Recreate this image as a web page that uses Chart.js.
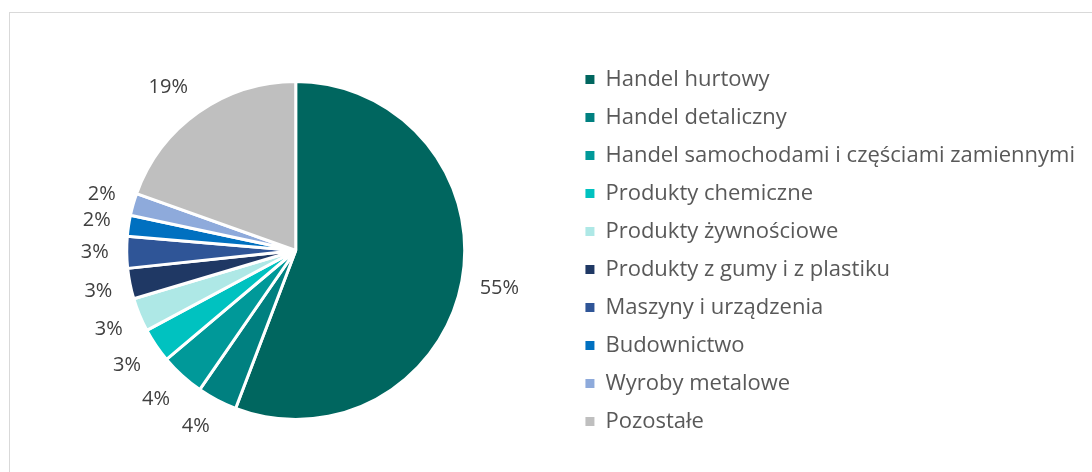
<!DOCTYPE html>
<html lang="pl">
<head>
    <meta charset="UTF-8">
    <title>Struktura</title>
    <script src="https://cdn.jsdelivr.net/npm/chart.js"></script>
    <style>
        html, body {
            margin: 0;
            padding: 0;
            background: #fff;
            overflow: hidden;
        }
        .frame {
            position: absolute;
            left: 9px;
            top: 12px;
            width: 1100px;
            height: 480px;
            border: 1px solid #d9d9d9;
        }
        .wrap {
            position: absolute;
            left: 0;
            top: 0;
            width: 1092px;
            height: 472px;
        }
    </style>
</head>
<body>
    <div class="frame"></div>
    <div class="wrap">
        <canvas id="pie"></canvas>
    </div>
    <script>
        const categories = [
            'Handel hurtowy',
            'Handel detaliczny',
            'Handel samochodami i częściami zamiennymi',
            'Produkty chemiczne',
            'Produkty żywnościowe',
            'Produkty z gumy i z plastiku',
            'Maszyny i urządzenia',
            'Budownictwo',
            'Wyroby metalowe',
            'Pozostałe'
        ];
        // udział w %
        const shares = [55.4, 3.8, 4.2, 3.3, 3.2, 2.9, 3.0, 2.0, 2.1, 19.4];
        const colors = ['#00665f', '#008080', '#009999', '#00c2c0', '#aee8e6',
                        '#1f3864', '#2f5597', '#0070c0', '#8eaadb', '#bfbfbf'];

        const clamp = v => Math.max(-1, Math.min(1, v));

        // percent labels drawn outside each slice (Excel "outside end" style)
        const outerLabels = {
            id: 'outerLabels',
            afterDatasetsDraw(chart) {
                const ctx = chart.ctx;
                const meta = chart.getDatasetMeta(0);
                ctx.save();
                ctx.font = '20px "Open Sans", sans-serif';
                ctx.fillStyle = '#404040';
                ctx.textAlign = 'center';
                ctx.textBaseline = 'middle';
                meta.data.forEach((arc, i) => {
                    const txt = Math.round(shares[i]) + '%';
                    const w = ctx.measureText(txt).width;
                    const h = 20;
                    const mid = (arc.startAngle + arc.endAngle) / 2;
                    const cx = Math.cos(mid), cy = Math.sin(mid);
                    const r = arc.outerRadius + 18;
                    const x = arc.x + cx * r + clamp(cx * 2) * w / 2;
                    const y = arc.y + cy * r + clamp(cy * 2) * h / 2;
                    ctx.fillText(txt, x, y);
                });
                ctx.restore();
            }
        };

        const defaultLabels = Chart.overrides.pie.plugins.legend.labels.generateLabels;

        new Chart(document.getElementById('pie'), {
            type: 'pie',
            data: {
                labels: categories,
                datasets: [{
                    data: shares,
                    backgroundColor: colors,
                    borderColor: '#ffffff',
                    borderWidth: 3,
                    radius: 169
                }]
            },
            options: {
                responsive: true,
                maintainAspectRatio: false,
                animation: false,
                layout: {
                    padding: { top: 29, bottom: 0, left: 22, right: 7 }
                },
                plugins: {
                    tooltip: { enabled: false },
                    legend: {
                        position: 'right',
                        align: 'center',
                        labels: {
                            font: { family: '"Open Sans", sans-serif', size: 22 },
                            color: '#595959',
                            boxWidth: 9,
                            boxHeight: 9,
                            padding: 16,
                            generateLabels: chart => defaultLabels(chart).map(item => ({ ...item, lineWidth: 0 }))
                        }
                    }
                }
            },
            plugins: [outerLabels]
        });
    </script>
</body>
</html>
